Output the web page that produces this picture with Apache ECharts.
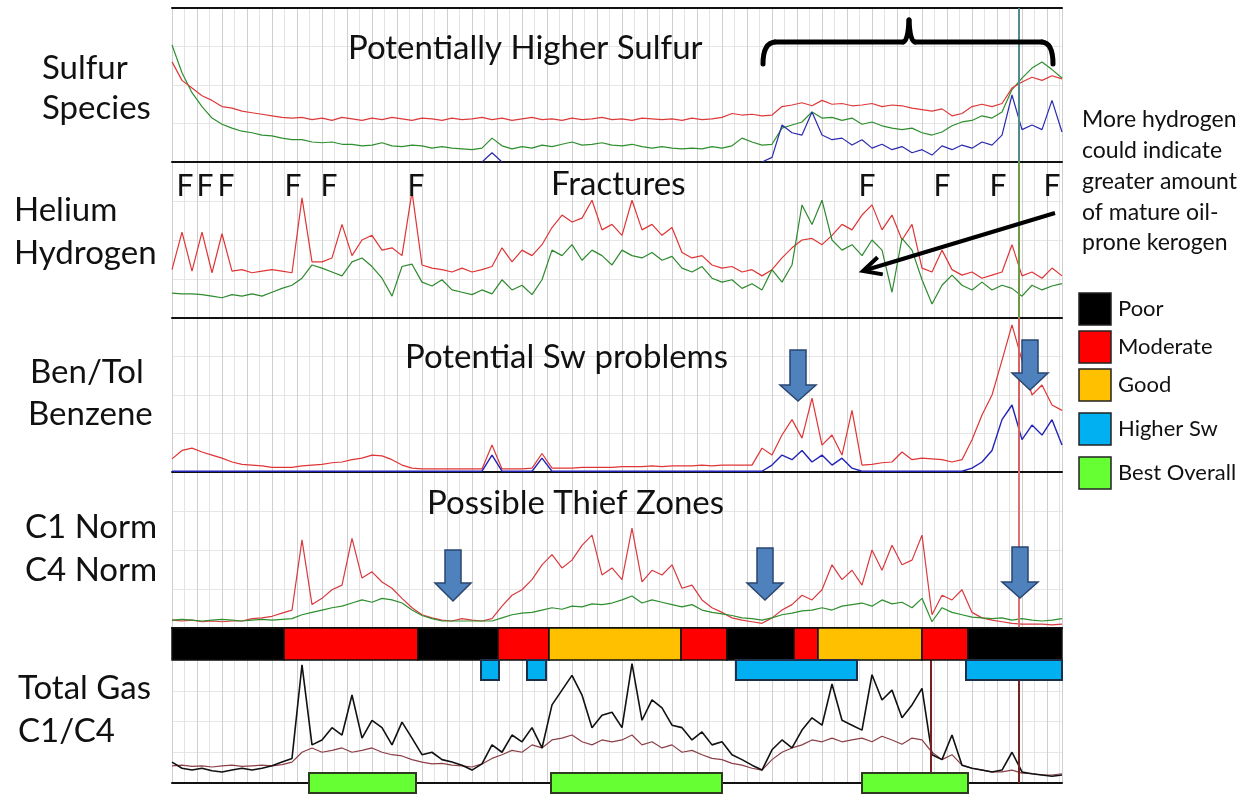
<!DOCTYPE html>
<html><head><meta charset="utf-8">
<script src="https://cdn.jsdelivr.net/npm/echarts@6/dist/echarts.min.js"></script>
<style>html,body{margin:0;padding:0;background:#fff}#c{width:1254px;height:794px}</style>
</head><body><div id="c"></div>
<script>
// Depth step between samples (depth units)
const STEP = 10;
const DEPTH_MAX = 890;

// Panel 1: Sulfur species
const sulfurRed = [65,53,48,43,40,36,35,33,32,31, 30,29,28.5,29,27.5,28.5,27,29,28,27, 28.5,27.5,29,28,27,28.5,28,27,28.5,27.5, 28,29,27.5,28.5,27,28,29,27.5,28,27, 28.5,27.5,28,29,27.5,28,27,28.5,28,27.5, 28,27,28.5,27.5,28,29,31.5,30.5,31,30, 30.5,36,37,38.5,36.5,40,37.5,38,36.5,37, 38,36,37,36.5,35,34,33,34.5,30,31.5, 36,37.5,36,38,48,52,55,53,56,54];
const sulfurGreen = [76,58,45,36,28.5,24.5,22,20,19,17.5, 17,15.5,14.5,14.5,13,12.5,13,11.5,11.5,10.5, 11,12.5,10.5,10,11,10.5,9,10,9,8.5, 8,9,15.5,10.5,8.5,10,9,11,10,11.5, 13,11,11.5,12.5,11,10.5,11.5,10,9,10, 9,8.5,9,8.5,10,9,10.5,15.5,13,11, 11.5,22,24,26,32.5,28.5,29,27,28.5,24.5, 26,23.5,22,21,22,19,17.5,19.5,23.5,26, 27,30,28.5,32.5,47,54.5,61,65,60,54.5];
const sulfurBlue = [null,null,null,null,null,null,null,null,null,null, null,null,null,null,null,null,null,null,null,null, null,null,null,null,null,null,null,null,null,null, null,0,6,0,null,null,null,null,null,null, null,null,null,null,null,null,null,null,null,null, null,null,null,null,null,null,null,null,null,0, 3,24,19,17.5,32.5,17.5,14.5,15.5,11,14.5, 9,11.5,8,10,6,8,4.5,10.5,8,11, 9,13,11,17.5,43.5,21,24,21,40,19.5];

// Panel 2: Helium / Hydrogen
const heliumRed = [31,55,30,55,29,54,30,31,29,30, 31,30,29,77,36,36,38.5,60,40,50, 53,43.5,45,40,81,34,32,31,29.5,32, 29.5,31,33,45,36,43.5,40,47,58,66, 61.5,64,75.5,56.5,60,53,75.5,56.5,60,53, 58,42,38.5,40,34,32,33,29.5,31,27, 31,38.5,45,50,51,47,53,60,56.5,66, 72.5,56.5,66,50,60,32,29.5,43.5,31,27.5, 29.5,25.5,27.5,29.5,47,27,29.5,25.5,32,27];
const hydrogenGreen = [16,15.5,15.5,15,14,13,15,14,15.5,14, 16.5,19,21,25.5,34,32,29.5,27,36,38.5, 33,25.5,14,33,34.5,23,20.5,24.5,18,16.5, 15,18,15.5,24.5,18,21,15,24.5,43.5,40, 47,37,43.5,40,34,43.5,40,38.5,42,37, 39.5,32,29.5,33,25.5,23,24.5,19,22,18, 31,23,34,72.5,60,75.5,50,43.5,47,40, 50,43.5,16.5,51,43.5,24.5,9,21,27.5,21, 18,23,18,21,19,14,21,18,20.5,22];

// Panel 3: Ben/Tol, Benzene
const benTolRed = [8.5,14,15.5,13,11,9,6.5,5,4.5,4, 3,3,3,4,4.5,5,6,6.5,8,9, 11,10.5,8,4.5,2.5,2,2,2,2,2, 2,2,17.5,2,2,2,2.5,12,2.5,2.5, 2.5,3,3,3,3,3.5,3.5,3.5,4,3.5, 4,4,4,4.5,4,4.5,4.5,4.5,4.5,15.5, 11,24,34,22,48,17.5,24,11,40,4.5, 5,6,6.5,13,8,9,8.5,8,6.5,8, 21,37,50,72.5,95.5,72.5,50,56.5,43.5,40];
const benzeneBlue = [0.5,0.5,0.5,0.5,0.5,0.5,0.5,0.5,0.5,0.5, 0.5,0.5,0.5,0.5,0.5,0.5,0.5,0.5,0.5,0.5, 0.5,0.5,0.5,0.5,0.5,0.5,0.5,0.5,0.5,0.5, 0.5,0.5,11,0.5,0.5,0.5,0.5,9,0.5,0.5, 0.5,0.5,0.5,0.5,0.5,0.5,0.5,0.5,0.5,0.5, 0.5,0.5,0.5,0.5,0.5,0.5,0.5,0.5,0.5,0.5, 4.5,11,8,14,6.5,11,4.5,9,2.5,0.5, 0.5,0.5,0.5,0.5,0.5,0.5,0.5,0.5,0.5,0.5, 2.5,6.5,14,34,43.5,21,30.5,24,34,17.5];

// Panel 4: C1 Norm, C4 Norm
const c1Norm = [5,4.5,5,4,4.5,4,4.5,4.5,6,6.5, 7.5,9.5,11.5,56.5,15,19,24.5,27.5,57.5,32, 36,29.5,25.5,19,13,8.5,6.5,5,4.5,6, 5,4.5,6,14,21,24.5,31,40.5,47,38.5, 43.5,53,59.5,34,38.5,31,64,29.5,37,34, 40.5,25.5,27.5,18,13,10,6.5,5,4,3, 6.5,11.5,15,21,18,24.5,40.5,31,37,27.5, 50,37,53,40.5,43.5,59.5,8.5,21,18,24.5, 10,6.5,5,4,3,2.5,2.5,2.5,2,2.5];
const c4Norm = [5,5.5,5,4.5,5,5.5,5,4.5,5,5.5, 5,5.5,6,8.5,10,11.5,13,14,16,18, 16.5,19,18,16,11.5,8,6,4.5,4.5,4.5, 4.5,4.5,4.5,6.5,8.5,9.5,10,11.5,13,12, 14,13.5,15.5,15,16,18,20.5,16,18,16.5, 15,13.5,15,11.5,10,9,8,6.5,6,5, 6.5,8.5,9.5,11,11.5,13,11.5,14,15,16, 14,18,15.5,16.5,13,19,4,13,10,8.5, 7,6.5,6,6.5,5,6,5,4.5,5,6];

// Panel 5: Total Gas, C1/C4
const totalGas = [17,12,10.5,12,10,9,10.5,12,10.5,12, 14,17,20,96,31,35,45,39,71.5,36.5, 51,45,31,49.5,36.5,23,25,19,17,14.5, 10.5,15.5,31,25,39,33.5,45,28.5,63.5,75.5, 87.5,71.5,45,55,57.5,45,97,51,67.5,61, 47,45,35,41.5,31,33.5,23,19,14.5,10.5, 27,35,28.5,43,53,47,80.5,51,47,43, 88,67.5,75.5,53,63.5,77,23,19,39,14.5, 12,10.5,9,10.5,25,9,7.5,6.5,5.5,6.5];
const c1c4Ratio = [14,14.5,13.5,14,13,14,14.5,13.5,14,14.5, 14,15,17,25,28.5,25,26.5,28.5,25,26.5, 28.5,25,23,22,19,17,15.5,16,14.5,14, 13,15.5,20,23,26.5,25,31,28.5,35,36.5, 39,33.5,31,35,33.5,35,39,31,33.5,28.5, 31,25,26.5,23,20,19,16,14.5,12,10.5, 19,25,28.5,31,35,33.5,36.5,33.5,35,36.5, 33.5,38,35,31.5,36.5,35,25,19,23,14.5, 12,10.5,9,9,10.5,8,7.5,6.5,6.5,7.5];

// Reservoir quality zones (depth units)
const qualityStart = [0,112,246,326,377,509,555,622,646,750,796];
const qualityEnd   = [112,246,326,377,509,555,622,646,750,796,890];
const qualityClass = ['Poor','Moderate','Poor','Moderate','Good','Moderate','Poor','Moderate','Good','Moderate','Poor'];
const higherSwStart = [309,355,564,794];
const higherSwEnd   = [327,374,685,890];
const bestStart = [137,379,690];
const bestEnd   = [244,550,796];
const cursorDepths = [847, 759];

const legendNames = ['Poor','Moderate','Good','Higher Sw','Best Overall'];
const fractureDepths = [13,33,54,121,157,244,695,770,826,880];

const QCOL = {Poor:'#000000', Moderate:'#ff0000', Good:'#ffc000', 'Higher Sw':'#00b0f0', 'Best Overall':'#66ff33'};
const FONT = 'Lato, "Open Sans", sans-serif';

const chart = echarts.init(document.getElementById('c'), null, {renderer:'canvas'});
const L = 172, WID = 890;
const gridDefs = [
  {top:8,height:154},{top:162,height:156},{top:318,height:154},{top:472,height:156},{top:660,height:123},
  {top:628,height:32},{top:660,height:20},{top:773,height:20}
];
const grid = gridDefs.map(g=>({left:L,width:WID,top:g.top,height:g.height}));
const xAxis = gridDefs.map((g,i)=>{
  const panel = i<5;
  return {type:'value', gridIndex:i, min:0, max:DEPTH_MAX, interval:25, show:true,
    axisLine:{show:panel, onZero:false, lineStyle:{color:'#111', width:2}},
    axisTick:{show:false}, axisLabel:{show:false},
    splitLine:{show:panel, lineStyle:{color:'#cfcfcf', width:1}},
    minorTick:{show:false, splitNumber:2},
    minorSplitLine:{show:panel, lineStyle:{color:'#e3e3e3', width:1}}};
});
xAxis.push({type:'value', gridIndex:0, position:'top', min:0, max:DEPTH_MAX, axisLine:{show:true, onZero:false, lineStyle:{color:'#111', width:2}}, axisTick:{show:false}, axisLabel:{show:false}, splitLine:{show:false}});
const yAxis = gridDefs.map((g,i)=>{
  const panel = i<5;
  return {type:'value', gridIndex:i, min:0, max: panel?100:1, interval: panel?25:1, show:true,
    axisLine:{show:false}, axisTick:{show:false}, axisLabel:{show:false},
    splitLine:{show:panel, lineStyle:{color:'#e6e6e6', width:1}}};
});

function line(name, arr, gi, color, width, extra){
  return Object.assign({type:'line', name, xAxisIndex:gi, yAxisIndex:gi, symbol:'none', showSymbol:false,
    clip:true, connectNulls:false, silent:true, z:3,
    lineStyle:{color, width:width||1.2}, itemStyle:{color},
    data: arr.map((v,k)=>[k*STEP, v])}, extra||{});
}
function cursor(depth, color, width){
  return {symbol:'none', silent:true, label:{show:false}, animation:false,
    lineStyle:{color, width:width||2, type:'solid'}, data:[{xAxis:depth}]};
}
function rectSeries(name, gi, starts, ends, fills, stroke, lw){
  return {type:'custom', name, xAxisIndex:gi, yAxisIndex:gi, z:10, silent:true,
    data: starts.map((s,k)=>[s, ends[k], k]),
    encode:{x:[0,1]},
    renderItem:(p, api)=>{
      const a = api.coord([api.value(0),1]), b = api.coord([api.value(1),0]);
      return {type:'rect', shape:{x:a[0], y:a[1], width:b[0]-a[0], height:b[1]-a[1]},
        style:{fill:fills[api.value(2)], stroke, lineWidth:lw}};
    }};
}

const series = [
  line('Sulfur B', sulfurGreen, 0, '#2f8f2f', 1.2, {markLine: cursor(cursorDepths[0], '#4f8c8c', 2)}),
  line('Sulfur A', sulfurRed, 0, '#dd3a3a', 1.2),
  line('Sulfur C', sulfurBlue, 0, '#2b2bb0', 1.2),
  line('Helium', heliumRed, 1, '#e03535', 1.2, {markLine: cursor(cursorDepths[0], '#6e9a44', 2)}),
  line('Hydrogen', hydrogenGreen, 1, '#2f8a2f', 1.2),
  line('Ben/Tol', benTolRed, 2, '#e03535', 1.2, {markLine: cursor(cursorDepths[0], '#d86060', 2)}),
  line('Benzene', benzeneBlue, 2, '#2323b8', 1.4),
  line('C1 Norm', c1Norm, 3, '#d93a3f', 1.2, {markLine: cursor(cursorDepths[0], '#e07070', 2)}),
  line('C4 Norm', c4Norm, 3, '#2f8f2f', 1.2),
  line('C1/C4', c1c4Ratio, 4, '#8c4048', 1.2, {markLine: {symbol:'none', silent:true, label:{show:false}, lineStyle:{color:'#7a1f1f', width:2, type:'solid'}, data:[{xAxis:cursorDepths[0]},{xAxis:cursorDepths[1]}]}}),
  line('Total Gas', totalGas, 4, '#111111', 1.6),
  rectSeries('Quality', 5, qualityStart, qualityEnd, qualityClass.map(c=>QCOL[c]), '#111', 1.5),
  rectSeries('Higher Sw', 6, higherSwStart, higherSwEnd, higherSwStart.map(()=>QCOL['Higher Sw']), '#1c2e4a', 2),
  rectSeries('Best Overall', 7, bestStart, bestEnd, bestStart.map(()=>QCOL['Best Overall']), '#2e3b1e', 2)
];

function txt(s, x, y, size, align){
  return {type:'text', x, y, z:50, silent:true,
    style:{text:s, font:size+'px '+FONT, fill:'#111', align:align||'left', verticalAlign:'middle', textAlign:align||'left', textVerticalAlign:'middle'}};
}
function downArrow(cx, top, headY, tip){
  return {type:'polygon', z:40, silent:true,
    shape:{points:[[cx-8,top],[cx+8,top],[cx+8,headY],[cx+18,headY],[cx,tip],[cx-18,headY],[cx-8,headY]]},
    style:{fill:'#4f81bd', stroke:'#2a4670', lineWidth:1.5}};
}
const blk = {stroke:'#000', lineWidth:5, fill:null, lineCap:'round', lineJoin:'round'};
const graphic = [
  txt('Sulfur',42,68,33), txt('Species',42,108,33),
  txt('Helium',14,210,33), txt('Hydrogen',14,253,33),
  txt('Ben/Tol',30,372,33), txt('Benzene',28,414,33),
  txt('C1 Norm',25,527,33), txt('C4 Norm',25,570,33),
  txt('Total Gas',18,688,33), txt('C1/C4',18,731,33),
  txt('Potentially Higher Sulfur',348,48,33),
  txt('Fractures',551,184,33),
  txt('Potential Sw problems',405,357,33),
  txt('Possible Thief Zones',427,503,33),
  ...fractureDepths.map(d=>txt('F', L + d*WID/DEPTH_MAX, 186, 30, 'center')),
  txt('More hydrogen',1082,120,23), txt('could indicate',1082,151,23), txt('greater amount',1082,182,23),
  txt('of mature oil-',1082,213,23), txt('prone kerogen',1082,243,23),
  // brace
  {type:'bezierCurve', z:40, silent:true, shape:{x1:763,y1:64,x2:775,y2:42,cpx1:763,cpy1:43}, style:blk},
  {type:'line', z:40, silent:true, shape:{x1:775,y1:42,x2:903,y2:42}, style:blk},
  {type:'bezierCurve', z:40, silent:true, shape:{x1:903,y1:42,x2:909,y2:20,cpx1:908,cpy1:42}, style:blk},
  {type:'bezierCurve', z:40, silent:true, shape:{x1:909,y1:20,x2:915,y2:42,cpx1:910,cpy1:42}, style:blk},
  {type:'line', z:40, silent:true, shape:{x1:915,y1:42,x2:1042,y2:42}, style:blk},
  {type:'bezierCurve', z:40, silent:true, shape:{x1:1042,y1:42,x2:1053,y2:64,cpx1:1053,cpy1:43}, style:blk},
  // black arrow
  {type:'line', z:40, silent:true, shape:{x1:1055,y1:213,x2:866,y2:270}, style:{stroke:'#000', lineWidth:4}},
  {type:'polyline', z:40, silent:true, shape:{points:[[877.6,257.2],[863,271],[882.8,274.4]]}, style:{stroke:'#000', lineWidth:4, fill:null, lineJoin:'miter'}},
  // blue arrows
  downArrow(798,350,385,401), downArrow(1030,340,373,390),
  downArrow(453,550,583,601), downArrow(765,548,583,600), downArrow(1020,547,582,598),
];
const legTops = [293,331,369,413,457];
legendNames.forEach((n,k)=>{
  graphic.push({type:'rect', z:40, silent:true, shape:{x:1079,y:legTops[k],width:32,height:32}, style:{fill:QCOL[n], stroke:'#222', lineWidth:1.5}});
  graphic.push(txt(n,1118,legTops[k]+16,22));
});

chart.setOption({animation:false, backgroundColor:'#ffffff', grid, xAxis, yAxis, series, graphic});
</script></body></html>
